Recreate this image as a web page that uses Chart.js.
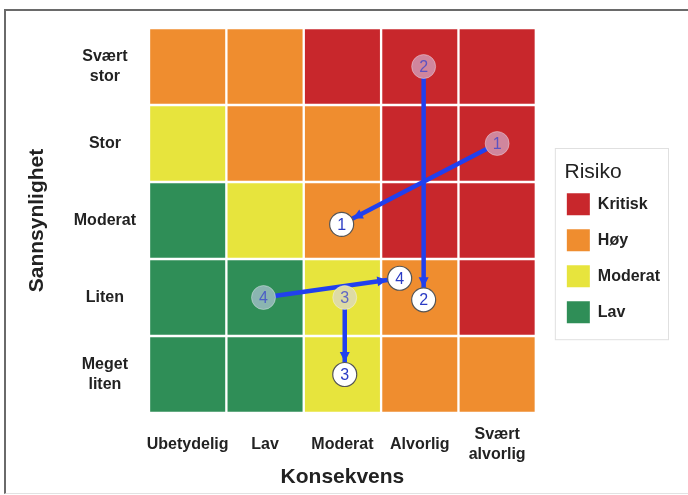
<!DOCTYPE html>
<html lang="no">
<head>
  <meta charset="UTF-8">
  <title>Risikomatrise</title>
  <script src="https://cdn.jsdelivr.net/npm/chart.js"></script>
  <style>
    html, body { margin: 0; padding: 0; background: #fff; }
    #wrap { position: relative; width: 688px; height: 495px; overflow: hidden; }
    #frame { position: absolute; left: 4px; top: 9px; width: 700px; height: 482px;
             border-top: 2px solid #6a6a6a; border-left: 2px solid #6a6a6a;
             border-bottom: 1px solid #e2e2e2; pointer-events: none; }
  </style>
</head>
<body>
  <div id="wrap">
    <canvas id="chart" width="688" height="495"></canvas>
    <div id="frame"></div>
  </div>

  <script>
    const consequenceLabels = ['Ubetydelig', 'Lav', 'Moderat', 'Alvorlig', ['Svært', 'alvorlig']];
    const likelihoodLabels = [['Meget', 'liten'], 'Liten', 'Moderat', 'Stor', ['Svært', 'stor']];
    const riskNames = ['Kritisk', 'Høy', 'Moderat', 'Lav'];
    const riskColors = ['#c8272c', '#ef8d2f', '#e7e43d', '#2f8e57'];

    // risk level (index into riskNames) per cell, rows from "Meget liten" up to "Svært stor"
    const riskGrid = [
      [3, 3, 2, 1, 1],
      [3, 3, 2, 1, 0],
      [3, 2, 1, 0, 0],
      [2, 1, 1, 0, 0],
      [1, 1, 0, 0, 0]
    ];

    // numbered risks: where they were (faded) and where they are now
    const pointNames = ['1', '2', '3', '4'];
    const beforeX = [5, 4.05, 3.03, 1.98];
    const beforeY = [4, 5, 2, 2];
    const afterX = [2.99, 4.05, 3.03, 3.74];
    const afterY = [2.95, 1.97, 1, 2.25];

    const blue = '#2140ee';
    const textColor = '#222';

    function hexToRgb(h) {
      const n = parseInt(h.slice(1), 16);
      return [(n >> 16) & 255, (n >> 8) & 255, n & 255];
    }
    function fadedFill(x, y) {
      const c = hexToRgb(riskColors[riskGrid[Math.round(y) - 1][Math.round(x) - 1]]);
      const tint = [215, 212, 250];
      const m = c.map((v, i) => Math.round(v * 0.45 + tint[i] * 0.55));
      return `rgb(${m[0]},${m[1]},${m[2]})`;
    }

    const cellDatasets = riskNames.map((name, r) => {
      const cells = [];
      riskGrid.forEach((row, yi) => row.forEach((level, xi) => {
        if (level === r) cells.push({ x: xi + 1, y: [yi + 0.5, yi + 1.5] });
      }));
      return {
        type: 'bar',
        label: name,
        data: cells,
        backgroundColor: riskColors[r],
        borderColor: '#fff',
        borderWidth: 1.5,
        borderSkipped: false,
        barPercentage: 1,
        categoryPercentage: 1,
        grouped: false,
        order: 10 + r,
        xAxisID: 'x',
        yAxisID: 'y'
      };
    });

    const arrowDatasets = pointNames.map((p, i) => ({
      type: 'line',
      label: 'pil ' + p,
      isArrow: true,
      data: [{ x: beforeX[i], y: beforeY[i] }, { x: afterX[i], y: afterY[i] }],
      borderColor: blue,
      borderWidth: 4.5,
      pointRadius: 0,
      fill: false,
      order: 5,
      xAxisID: 'x',
      yAxisID: 'y'
    }));

    const beforeDataset = {
      type: 'scatter',
      label: 'før',
      data: pointNames.map((p, i) => ({ x: beforeX[i], y: beforeY[i] })),
      pointRadius: 12,
      pointBackgroundColor: pointNames.map((p, i) => fadedFill(beforeX[i], beforeY[i])),
      pointBorderColor: 'rgba(255,255,255,0.35)',
      pointBorderWidth: 1,
      numberColor: 'rgba(55,65,205,0.75)',
      order: 1,
      xAxisID: 'x',
      yAxisID: 'y'
    };

    const afterDataset = {
      type: 'scatter',
      label: 'nå',
      data: pointNames.map((p, i) => ({ x: afterX[i], y: afterY[i] })),
      pointRadius: 12,
      pointBackgroundColor: '#fff',
      pointBorderColor: '#555',
      pointBorderWidth: 1.2,
      numberColor: '#2b3bc4',
      order: 0,
      xAxisID: 'x',
      yAxisID: 'y'
    };

    const arrowHeads = {
      id: 'arrowHeads',
      afterDatasetDraw(chart, args) {
        const ds = chart.data.datasets[args.index];
        if (!ds.isArrow) return;
        const [a, b] = args.meta.data;
        const ctx = chart.ctx;
        const ang = Math.atan2(b.y - a.y, b.x - a.x);
        const cos = Math.cos(ang), sin = Math.sin(ang);
        const tipX = b.x - cos * 12.5, tipY = b.y - sin * 12.5;
        const len = 10, w = 5;
        ctx.save();
        ctx.fillStyle = ds.borderColor;
        ctx.beginPath();
        ctx.moveTo(tipX, tipY);
        ctx.lineTo(tipX - cos * len - sin * w, tipY - sin * len + cos * w);
        ctx.lineTo(tipX - cos * len + sin * w, tipY - sin * len - cos * w);
        ctx.closePath();
        ctx.fill();
        ctx.restore();
      }
    };

    const pointNumbers = {
      id: 'pointNumbers',
      afterDatasetsDraw(chart) {
        const ctx = chart.ctx;
        chart.data.datasets.forEach((ds, i) => {
          if (!ds.numberColor) return;
          const meta = chart.getDatasetMeta(i);
          ctx.save();
          ctx.font = "16px 'Liberation Sans', Arial, sans-serif";
          ctx.fillStyle = ds.numberColor;
          ctx.textAlign = 'center';
          ctx.textBaseline = 'middle';
          meta.data.forEach((el, j) => ctx.fillText(pointNames[j], el.x, el.y + 1));
          ctx.restore();
        });
      }
    };

    const legendFrame = {
      id: 'legendFrame',
      afterDraw(chart) {
        const lg = chart.legend;
        if (!lg || !lg.legendHitBoxes || !lg.legendHitBoxes.length) return;
        const last = lg.legendHitBoxes[lg.legendHitBoxes.length - 1];
        const ctx = chart.ctx;
        ctx.save();
        ctx.strokeStyle = '#e0e0e0';
        ctx.lineWidth = 1;
        const top = lg.top + 120;
        const left = lg.left + 2;
        ctx.strokeRect(left + 0.5, top + 0.5, lg.right + 7 - left, last.top + last.height + 16 - top);
        ctx.restore();
      }
    };

    const oneToFive = [1, 2, 3, 4, 5];

    new Chart(document.getElementById('chart'), {
      type: 'bar',
      data: { datasets: [...cellDatasets, ...arrowDatasets, beforeDataset, afterDataset] },
      options: {
        responsive: false,
        animation: false,
        events: [],
        layout: { padding: { left: 12, right: 27, top: 28, bottom: 0 } },
        font: { family: "'Liberation Sans', Arial, sans-serif" },
        scales: {
          x: {
            type: 'linear',
            min: 0.5,
            max: 5.5,
            offset: false,
            afterBuildTicks: s => { s.ticks = oneToFive.map(v => ({ value: v })); },
            afterFit: s => { s.height = 82; },
            grid: { display: false, drawTicks: false },
            border: { display: false },
            ticks: {
              callback: v => consequenceLabels[v - 1],
              font: { size: 16, weight: 'bold' },
              color: textColor,
              padding: 22,
              crossAlign: 'center',
              maxRotation: 0,
              autoSkip: false
            },
            title: {
              display: true,
              text: 'Konsekvens',
              font: { size: 21, weight: 'bold' },
              color: textColor,
              padding: { top: 0, bottom: 5 }
            }
          },
          y: {
            type: 'linear',
            min: 0.5,
            max: 5.5,
            afterBuildTicks: s => { s.ticks = oneToFive.map(v => ({ value: v })); },
            afterFit: s => { s.width = 137; s.paddingTop = 0; s.paddingBottom = 0; },
            grid: { display: false, drawTicks: false },
            border: { display: false },
            ticks: {
              callback: v => likelihoodLabels[v - 1],
              font: { size: 16, weight: 'bold' },
              color: textColor,
              padding: 13,
              crossAlign: 'center',
              autoSkip: false
            },
            title: {
              display: true,
              text: 'Sannsynlighet',
              font: { size: 21, weight: 'bold' },
              color: textColor,
              padding: { top: 13, bottom: 0 }
            }
          },
          gap: {
            type: 'linear',
            position: 'right',
            afterFit: s => { s.width = 17; s.paddingTop = 0; s.paddingBottom = 0; },
            ticks: { display: false },
            grid: { display: false, drawTicks: false },
            border: { display: false }
          }
        },
        plugins: {
          tooltip: { enabled: false },
          legend: {
            position: 'right',
            align: 'start',
            title: {
              display: true,
              text: '  Risiko',
              position: 'start',
              color: textColor,
              font: { size: 21, weight: 'normal' },
              padding: { top: 134, bottom: -8 }
            },
            labels: {
              boxWidth: 23,
              boxHeight: 22,
              padding: 14,
              color: textColor,
              font: { size: 16, weight: 'bold' },
              generateLabels: () => riskNames.map((name, i) => ({
                text: name,
                fillStyle: riskColors[i],
                strokeStyle: riskColors[i],
                lineWidth: 0,
                hidden: false,
                datasetIndex: i,
                fontColor: textColor
              }))
            }
          }
        }
      },
      plugins: [arrowHeads, pointNumbers, legendFrame]
    });
  </script>
</body>
</html>
